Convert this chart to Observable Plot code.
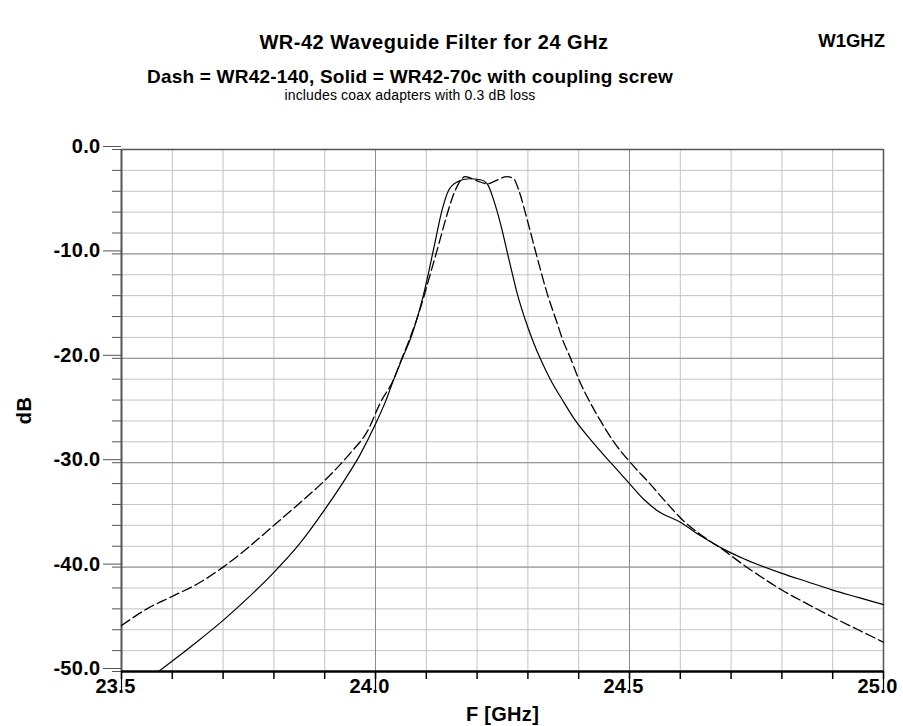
<!DOCTYPE html>
<html>
<head>
<meta charset="utf-8">
<script src="https://cdn.jsdelivr.net/npm/d3@7"></script>
<script src="https://cdn.jsdelivr.net/npm/@observablehq/plot@0.6"></script>
<style>
  html, body { margin: 0; padding: 0; background: #fff; }
  #wrap { position: relative; width: 903px; height: 726px; overflow: hidden; font-family: "Liberation Sans", Arial, sans-serif; color: #000; }
  #head { position: relative; width: 903px; height: 110px; }
  .t { position: absolute; white-space: nowrap; line-height: 1; }
  #title { left: 0; width: 868px; text-align: center; top: 32px; font-size: 20px; font-weight: bold; letter-spacing: 0.5px; }
  #call { right: 18px; top: 32px; font-size: 18.5px; font-weight: bold; }
  #sub { left: 0; width: 820px; text-align: center; top: 67px; font-size: 19px; font-weight: bold; letter-spacing: 0.2px; }
  #note { left: 0; width: 820px; text-align: center; top: 88px; font-size: 14px; letter-spacing: 0.15px; }
</style>
</head>
<body>
<div id="wrap">
  <div id="head">
    <div class="t" id="title">WR-42 Waveguide Filter for 24 GHz</div>
    <div class="t" id="call">W1GHZ</div>
    <div class="t" id="sub">Dash = WR42-140, Solid = WR42-70c with coupling screw</div>
    <div class="t" id="note">includes coax adapters with 0.3 dB loss</div>
  </div>
  <div id="chart"></div>
</div>
<script>
// WR42-140 (dashed)
const freqDash = [23.50, 23.55, 23.60, 23.65, 23.70, 23.75, 23.80, 23.85, 23.90, 23.95, 23.985, 24.01, 24.036, 24.052, 24.066, 24.089, 24.108, 24.125, 24.141, 24.157, 24.177, 24.20, 24.22, 24.236, 24.259, 24.272, 24.282, 24.299, 24.318, 24.338, 24.358, 24.369, 24.384, 24.40, 24.42, 24.443, 24.469, 24.502, 24.54, 24.574, 24.607, 24.646, 24.686, 24.719, 24.758, 24.80, 24.849, 24.90, 24.95, 25.00];
const dbDash   = [-45.6, -44.0, -42.8, -41.6, -40.0, -38.1, -36.0, -33.9, -31.7, -29.1, -26.9, -24.2, -22.0, -20.0, -18.3, -15.1, -11.9, -9.0, -6.2, -3.9, -2.6, -3.0, -3.3, -3.0, -2.6, -2.8, -3.9, -6.8, -10.3, -13.8, -16.7, -18.3, -20.0, -22.0, -24.0, -26.0, -28.0, -30.0, -32.0, -33.9, -35.6, -37.1, -38.4, -39.6, -40.9, -42.2, -43.5, -44.8, -46.0, -47.2];

// WR42-70c with coupling screw (solid)
const freqSolid = [23.573, 23.60, 23.65, 23.70, 23.75, 23.80, 23.85, 23.90, 23.94, 23.97, 24.00, 24.02, 24.036, 24.052, 24.072, 24.095, 24.115, 24.131, 24.144, 24.161, 24.184, 24.207, 24.22, 24.233, 24.246, 24.263, 24.279, 24.299, 24.312, 24.325, 24.345, 24.368, 24.394, 24.427, 24.463, 24.50, 24.528, 24.555, 24.60, 24.64, 24.686, 24.725, 24.80, 24.85, 24.90, 24.95, 25.00];
const dbSolid   = [-50.0, -49.0, -47.1, -45.1, -42.9, -40.5, -37.8, -34.5, -31.6, -29.2, -26.3, -24.1, -22.0, -20.1, -17.7, -13.8, -9.4, -5.8, -3.9, -3.1, -2.8, -2.9, -3.3, -4.9, -7.1, -10.6, -13.8, -16.9, -18.6, -20.1, -22.1, -24.0, -26.0, -28.0, -30.0, -32.0, -33.5, -34.6, -35.7, -37.0, -38.3, -39.2, -40.6, -41.4, -42.2, -42.9, -43.6];

// tick values
const xMajorTicks = [23.5, 24.0, 24.5, 25.0];
const xMinorTicks = [23.5, 23.6, 23.7, 23.8, 23.9, 24.0, 24.1, 24.2, 24.3, 24.4, 24.5, 24.6, 24.7, 24.8, 24.9, 25.0];
const yMajorTicks = [0, -10, -20, -30, -40, -50];
const yMinorTicks = [0, -2, -4, -6, -8, -10, -12, -14, -16, -18, -20, -22, -24, -26, -28, -30, -32, -34, -36, -38, -40, -42, -44, -46, -48, -50];

const dash = freqDash.map((f, i) => ({f, db: dbDash[i]}));
const solid = freqSolid.map((f, i) => ({f, db: dbSolid[i]}));

const chart = Plot.plot({
  width: 903,
  height: 616,
  marginTop: 39,
  marginBottom: 55,
  marginLeft: 121,
  marginRight: 20,
  style: {fontFamily: "'Liberation Sans', Arial, sans-serif", fontSize: "20px", fontWeight: "bold", letterSpacing: "0.3px", background: "#fff", color: "#000"},
  x: {domain: [23.5, 25.0]},
  y: {domain: [-50, 0]},
  marks: [
    Plot.gridX(xMinorTicks, {stroke: "#c4c4c4", strokeOpacity: 1, strokeWidth: 1}),
    Plot.gridY(yMinorTicks, {stroke: "#c4c4c4", strokeOpacity: 1, strokeWidth: 1}),
    Plot.gridX(xMajorTicks, {stroke: "#8c8c8c", strokeOpacity: 1, strokeWidth: 1}),
    Plot.gridY(yMajorTicks, {stroke: "#8c8c8c", strokeOpacity: 1, strokeWidth: 1}),
    Plot.ruleY([0], {stroke: "#555", strokeWidth: 1.6}),
    Plot.ruleX([25.0], {stroke: "#555", strokeWidth: 1.5}),
    Plot.ruleX([23.5], {stroke: "#555", strokeWidth: 2}),
    Plot.axisY({ticks: yMinorTicks, tickSize: 9, tickFormat: () => "", stroke: "#555", label: null}),
    Plot.axisY({ticks: yMajorTicks, tickSize: 18, tickPadding: 3, tickFormat: d => d.toFixed(1), stroke: "#555", fill: "#000", dy: -3,
      label: "dB", labelAnchor: "center", labelOffset: 105, labelArrow: "none"}),
    Plot.axisX({ticks: xMinorTicks, tickSize: 8, tickFormat: () => "", stroke: "#000", strokeWidth: 1.5, label: null}),
    Plot.axisX({ticks: xMajorTicks, tickSize: 20, tickFormat: () => "", stroke: "#000", strokeWidth: 1.2, label: null}),
    Plot.axisX({ticks: xMajorTicks, tickSize: 0, tickPadding: 7, tickFormat: d => d.toFixed(1), fill: "#000", dx: -6,
      label: "F [GHz]", labelAnchor: "center", labelOffset: 49, labelArrow: "none"}),
    Plot.ruleY([-50], {stroke: "#000", strokeWidth: 2.6}),
    Plot.line(solid, {x: "f", y: "db", stroke: "#000", strokeWidth: 1.2, curve: "monotone-x"}),
    Plot.line(dash, {x: "f", y: "db", stroke: "#000", strokeWidth: 1.3, strokeDasharray: "10,4", curve: "monotone-x"})
  ]
});
document.getElementById("chart").appendChild(chart);
</script>
</body>
</html>
